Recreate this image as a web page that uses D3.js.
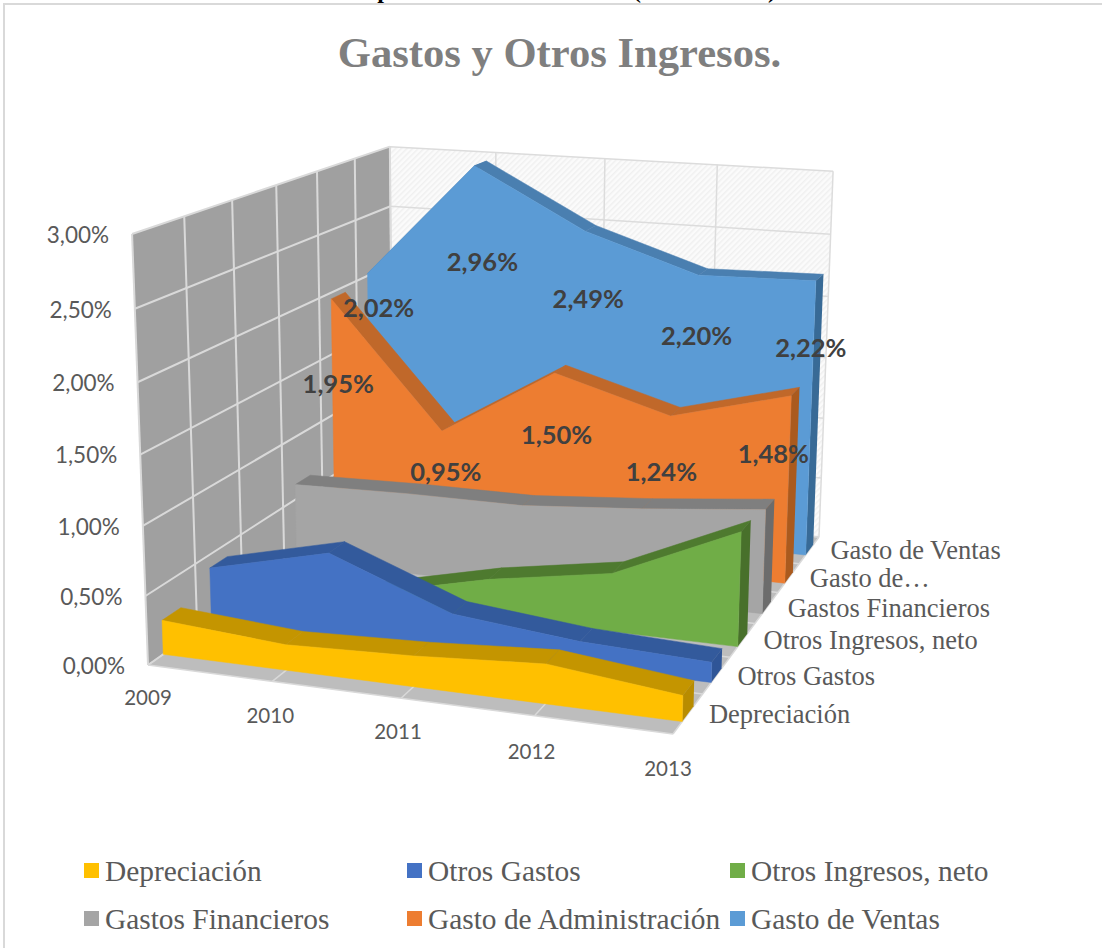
<!DOCTYPE html>
<html><head><meta charset="utf-8">
<script src="https://cdn.jsdelivr.net/npm/d3@7"></script>
<style>html,body{margin:0;padding:0;background:#fff}svg{display:block}</style>
</head><body><svg id="c" width="1102" height="948"></svg>
<script>
const years = ["2009","2010","2011","2012","2013"];
const seriesNames = ["Depreciación","Otros Gastos","Otros Ingresos, neto","Gastos Financieros","Gasto de Administración","Gasto de Ventas"];
const depreciacion = [0.25,0.185,0.22,0.28,0.18];
const otrosGastos = [0.40,0.615,0.27,0.18,0.145];
const otrosIngresos = [0.05,0.08,0.29,0.44,0.85];
const gastosFinancieros = [0.62,0.64,0.64,0.71,0.80];
const gastoAdministracion = [1.95,0.95,1.50,1.24,1.48];
const gastoVentas = [2.02,2.96,2.49,2.20,2.22];
const yTicks = [0,0.5,1,1.5,2,2.5,3];
const values = [depreciacion,otrosGastos,otrosIngresos,gastosFinancieros,gastoAdministracion,gastoVentas];
const depthLabels = ["Depreciación","Otros Gastos","Otros Ingresos, neto","Gastos Financieros","Gasto de…","Gasto de Ventas"];
const captionGlyphs = ["p","(",")"];

const fills = ["#ffc000","#4472c4","#70ad47","#a5a5a5","#ed7d31","#5b9bd5"];
const tops  = ["#c49500","#335a9c","#4e7a2f","#7f7f7f","#c0682a","#4a7fb0"];
const sides = ["#b88c00","#2f5597","#48702b","#6c6c6c","#aa5a1e","#386a96"];

// camera: anchors of the plot box on screen
const F = {a:[148,665],b:[673,734],c:[819,537],d:[393,493]};
const T = [{x:0,z:0,p:[132,235]},{x:0,z:1,p:[390,148]},{x:1,z:1,p:[833,169]}];
function homography(p0,p1,p2,p3){ // (0,0),(1,0),(1,1),(0,1)
  const dx1=p1[0]-p2[0],dx2=p3[0]-p2[0],sx=p0[0]-p1[0]+p2[0]-p3[0];
  const dy1=p1[1]-p2[1],dy2=p3[1]-p2[1],sy=p0[1]-p1[1]+p2[1]-p3[1];
  const det=dx1*dy2-dx2*dy1;
  const g=(sx*dy2-dx2*sy)/det,h=(dx1*sy-sx*dy1)/det;
  return {a:p1[0]-p0[0]+g*p1[0],b:p3[0]-p0[0]+h*p3[0],c:p0[0],
          d:p1[1]-p0[1]+g*p1[1],e:p3[1]-p0[1]+h*p3[1],f:p0[1],g,h};
}
const H=homography(F.a,F.b,F.c,F.d);
const Nx=(x,z)=>H.a*x+H.b*z+H.c, Ny=(x,z)=>H.d*x+H.e*z+H.f, D=(x,z)=>H.g*x+H.h*z+1;
const rows=T.map(t=>({u:t.p[0],v:t.p[1],ru:t.p[0]*D(t.x,t.z)-Nx(t.x,t.z),rv:t.p[1]*D(t.x,t.z)-Ny(t.x,t.z)}));
const mean=k=>d3.mean(rows,r=>r[k]);
const um=mean("u"),vm=mean("v"),rum=mean("ru"),rvm=mean("rv");
const J=-d3.sum(rows,r=>(r.u-um)*(r.ru-rum)+(r.v-vm)*(r.rv-rvm))/d3.sum(rows,r=>(r.u-um)**2+(r.v-vm)**2);
const C1=rum+um*J, C2=rvm+vm*J;
function proj(x,z,y){const w=D(x,z)+J*y;return [(Nx(x,z)+C1*y)/w,(Ny(x,z)+C2*y)/w];}

const xS=d3.scalePoint().domain(years).range([0,1]);
const yS=d3.scaleLinear().domain([0,3]).range([0,1]);
const zS=d3.scaleBand().domain(seriesNames).range([0,1]).paddingInner(0.62).paddingOuter(0.3);
const P=(xv,zv,v)=>proj(xv,zv,yS(v));
const poly=d3.line();

const svg=d3.select("#c");
const defs=svg.append("defs");
const pat=defs.append("pattern").attr("id","hatch").attr("width",4).attr("height",4)
  .attr("patternUnits","userSpaceOnUse").attr("patternTransform","rotate(45)");
pat.append("rect").attr("width",4).attr("height",4).attr("fill","#fbfbfb");
pat.append("rect").attr("width",1.5).attr("height",4).attr("fill","#f0f0f0");
svg.append("rect").attr("width",1102).attr("height",948).attr("fill","#fff");
svg.append("path").attr("d","M4,948V4H1102").attr("fill","none").attr("stroke","#d9d9d9").attr("stroke-width",2);

// what shows of the caption cut by the top edge
const captionX=[384,637,772];
captionGlyphs.forEach((c,i)=>{
  svg.append("text").attr("x",captionX[i]).attr("y",-2).attr("text-anchor","middle")
    .attr("font-family","Liberation Serif").attr("font-weight","bold").attr("font-size",24).attr("fill","#000").text(c);
});

svg.append("text").attr("x",559.5).attr("y",67).attr("text-anchor","middle")
  .attr("font-family","Liberation Serif").attr("font-weight","bold").attr("font-size",42.6).attr("fill","#7f7f7f")
  .text("Gastos y Otros Ingresos.");

// walls + floor
const g=svg.append("g");
g.append("path").attr("d",poly([proj(0,0,0),proj(0,1,0),proj(0,1,1),proj(0,0,1)])+"Z").attr("fill","#a0a0a0");
g.append("path").attr("d",poly([proj(0,1,0),proj(1,1,0),proj(1,1,1),proj(0,1,1)])+"Z").attr("fill","url(#hatch)");
g.append("path").attr("d",poly([proj(0,0,0),proj(1,0,0),proj(1,1,0),proj(0,1,0)])+"Z").attr("fill","#bdbdbd");
const zTicks=d3.range(0,7).map(i=>i/6);
const seg=(a,b,c,w)=>g.append("path").attr("d",poly([a,b])).attr("stroke",c).attr("stroke-width",w).attr("fill","none");
yTicks.forEach(t=>{
  seg(P(0,0,t),P(0,1,t),"#d9d9d9",2);
  seg(P(0,1,t),P(1,1,t),"#dcdcdc",1.5);
});
zTicks.forEach(z=>{
  seg(proj(0,z,0),proj(0,z,1),"#d9d9d9",2);
  seg(proj(0,z,0),proj(1,z,0),"#d9d9d9",1.5);
});
years.forEach(y=>{
  seg(proj(xS(y),1,0),proj(xS(y),1,1),"#dcdcdc",1.5);
  seg(proj(xS(y),0,0),proj(xS(y),1,0),"#d9d9d9",1.5);
});

// slabs, back to front
seriesNames.map((n,i)=>i).reverse().forEach(i=>{
  const n=seriesNames[i],vals=values[i];
  const z0=zS(n),z1=z0+zS.bandwidth();
  const sg=svg.append("g");
  for(let k=0;k<years.length-1;k++){
    const xa=xS(years[k]),xb=xS(years[k+1]);
    sg.append("path").attr("d",poly([P(xa,z0,vals[k]),P(xb,z0,vals[k+1]),P(xb,z1,vals[k+1]),P(xa,z1,vals[k])])+"Z")
      .attr("fill",tops[i]).attr("stroke",tops[i]).attr("stroke-width",.5);
  }
  const xe=1,ve=vals[vals.length-1];
  sg.append("path").attr("d",poly([P(xe,z0,ve),P(xe,z1,ve),P(xe,z1,0),P(xe,z0,0)])+"Z").attr("fill",sides[i]);
  const front=years.map((y,k)=>P(xS(y),z0,vals[k])).concat([P(1,z0,0),P(0,z0,0)]);
  sg.append("path").attr("d",poly(front)+"Z").attr("fill",fills[i]).attr("stroke",fills[i]).attr("stroke-width",.5);
});

// axes text
const sans="Lato";
yTicks.forEach(t=>{
  const p=P(0,0,t);
  svg.append("text").attr("x",p[0]-23).attr("y",p[1]+1).attr("dy","0.35em").attr("text-anchor","end")
    .attr("font-family",sans).attr("font-size",22.5).attr("fill","#595959").text(t.toFixed(2).replace(".",",")+"%");
});
const yearNudge=[[0,33],[-2,34],[-3,34],[-3,36],[-5,35]];
years.forEach((y,k)=>{
  const p=P(xS(y),0,0);
  svg.append("text").attr("x",p[0]+yearNudge[k][0]).attr("y",p[1]+yearNudge[k][1]).attr("dy","0.35em").attr("text-anchor","middle")
    .attr("font-family",sans).attr("font-size",20.5).attr("fill","#595959").text(y);
});
seriesNames.forEach((n,i)=>{
  const p=P(1,zS(n)+zS.bandwidth()/2,0);
  svg.append("text").attr("x",p[0]+21).attr("y",p[1]).attr("dy","0.35em")
    .attr("font-family","Liberation Serif").attr("font-size",26.5).attr("fill","#595959").text(depthLabels[i]);
});

// data labels on the two rear series
const labelNudge={4:[[7,85],[4,41],[2,62],[-9,56],[-18,58]],5:[[11,35],[8,96],[3,68],[-2,61],[-5,67]]};
[4,5].forEach(i=>{
  const n=seriesNames[i],z0=zS(n);
  values[i].forEach((v,k)=>{
    const p=P(xS(years[k]),z0,v);
    svg.append("text").attr("x",p[0]+labelNudge[i][k][0]).attr("y",p[1]+labelNudge[i][k][1]).attr("dy","0.35em").attr("text-anchor","middle")
      .attr("font-family",sans).attr("font-weight",700).attr("font-size",25.5).attr("fill","#404040")
      .text(v.toFixed(2).replace(".",",")+"%");
  });
});

// legend
const legCols=[84,407,730],legRows=[871,919];
seriesNames.forEach((n,i)=>{
  const x=legCols[i%3],y=legRows[Math.floor(i/3)];
  svg.append("rect").attr("x",x).attr("y",y-8).attr("width",15).attr("height",15).attr("fill",fills[i]);
  svg.append("text").attr("x",x+21).attr("y",y).attr("dy","0.35em")
    .attr("font-family","Liberation Serif").attr("font-size",29.4).attr("fill","#595959").text(n);
});
</script></body></html>
